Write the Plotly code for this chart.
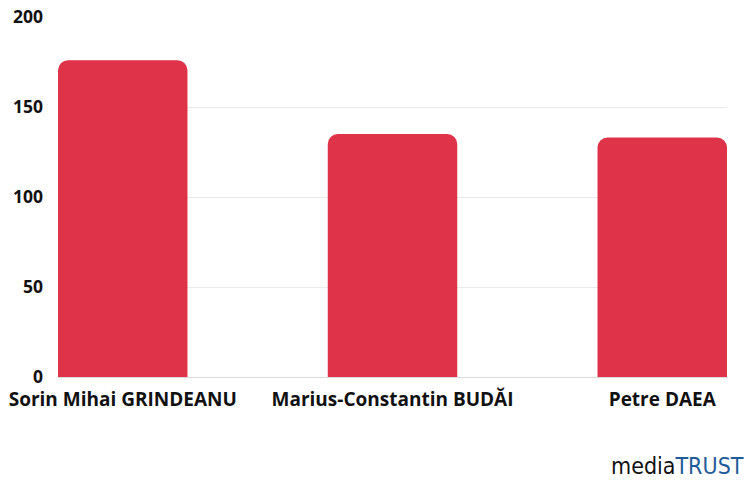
import plotly.graph_objects as go

categories = ["Sorin Mihai GRINDEANU", "Marius-Constantin BUDĂI", "Petre DAEA"]
values = [176, 135, 133]
y_ticks = [0, 50, 100, 150, 200]

fig = go.Figure(go.Bar(
    x=categories, y=values,
    marker=dict(color="#DF334A", cornerradius=10, line=dict(width=0)),
    width=0.48,
))

fig.update_layout(
    width=745, height=488,
    margin=dict(l=58, r=18, t=17, b=111, autoexpand=False),
    plot_bgcolor="white", paper_bgcolor="white",
    showlegend=False,
    font=dict(family="Open Sans", color="#111111"),
    xaxis=dict(range=[-0.24, 2.24], showgrid=False, showline=False, zeroline=False,
               automargin=False,
               tickfont=dict(family="Open Sans", size=19, color="#111111", weight="bold"),
               ticks="", ticklabelstandoff=9),
    yaxis=dict(range=[0, 200], tickvals=y_ticks, showgrid=True, gridcolor="#EAEAEA",
               automargin=False,
               zeroline=True, zerolinecolor="#DADADA", zerolinewidth=1,
               tickfont=dict(family="Open Sans", size=17.5, color="#111111", weight="bold"),
               ticks="", ticklabelstandoff=14),
    bargap=0.52,
)

fig.add_annotation(
    x=1.0, y=0, xref="paper", yref="paper", xanchor="right", yanchor="top",
    xshift=19, yshift=-74,
    text="<span style='color:#111111;font-stretch:condensed'>media</span>"
         "<span style='color:#1F5C99;font-stretch:condensed'>TRUST</span>",
    showarrow=False,
    font=dict(family="DejaVu Sans Condensed, Roboto", size=23),
)

fig.write_html("out.html", config={"displayModeBar": False},
               post_script="document.body.style.margin='0';document.body.style.padding='0';")
